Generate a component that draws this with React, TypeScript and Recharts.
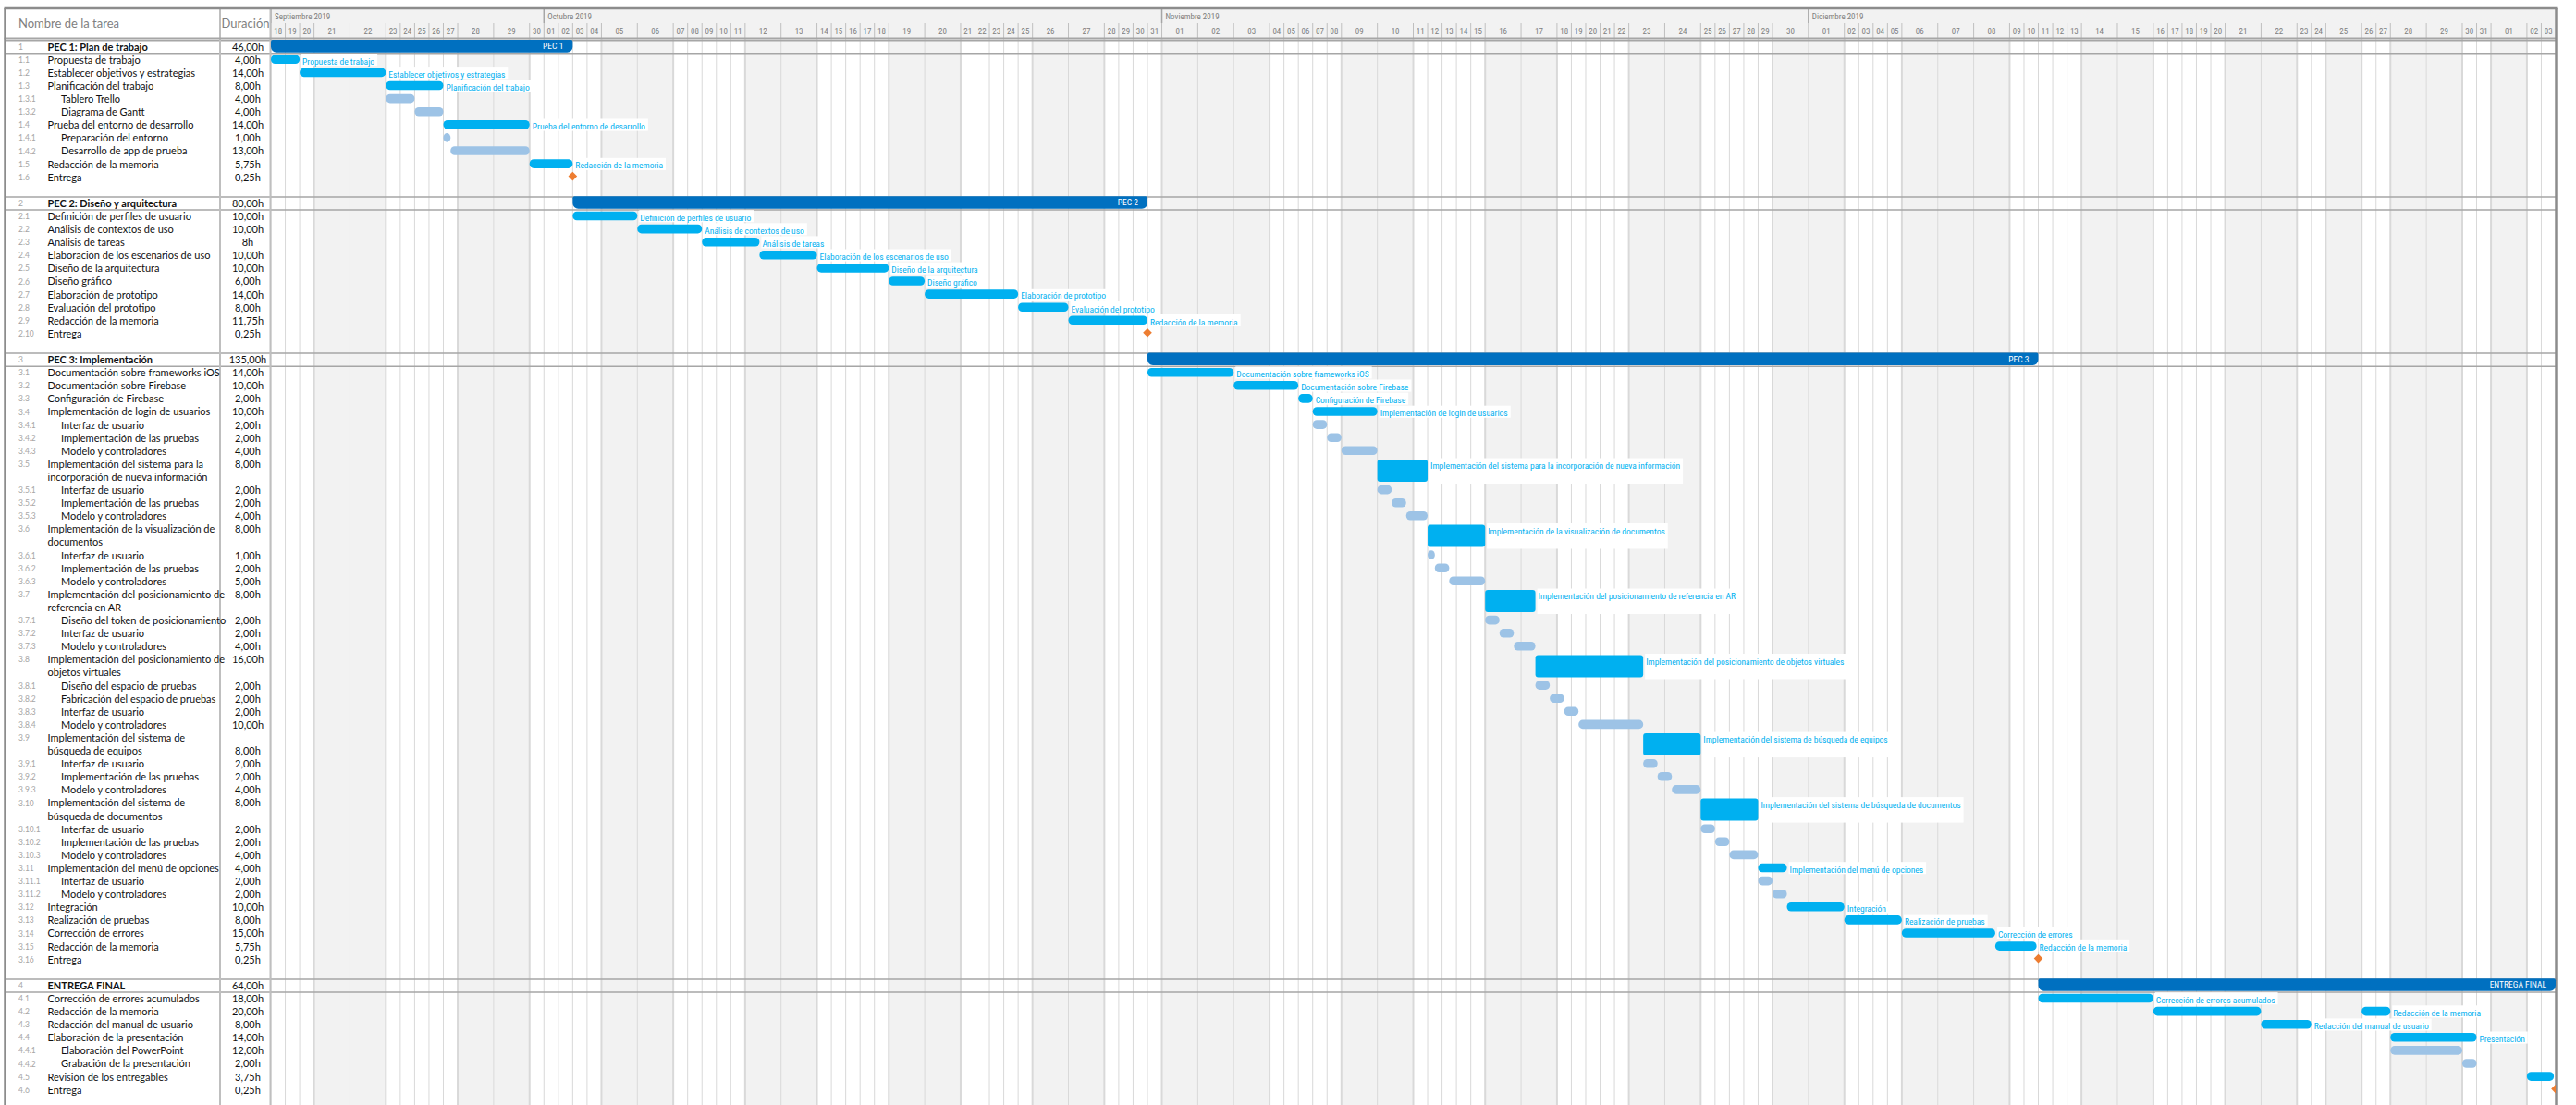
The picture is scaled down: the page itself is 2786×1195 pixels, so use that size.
import React, { useLayoutEffect, useRef, useState } from 'react';
import { ComposedChart, XAxis, YAxis, ReferenceArea, Scatter, Rectangle } from 'recharts';

const W = 2786;
const H = 1195;

const FONT = "Lato, 'Noto Sans', sans-serif";
const NARROW = "'Liberation Sans Narrow', 'Roboto Condensed', Roboto, sans-serif";

// calendar 18/09/2019 -> 03/01/2020; days off are drawn wider (more hours)
const calendarFirstDay = Date.UTC(2019, 8, 18);
const calendarLength = 108;
const holidays = ['2019-11-01', '2019-12-06', '2019-12-25', '2020-01-01'];
const workdayHours = 2;
const dayOffHours = 5;
const monthLabels = ['Septiembre 2019', 'Octubre 2019', 'Noviembre 2019', 'Diciembre 2019'];

// [id, name ('|' = second line), duration, start (h), end (h)]
type RowT = [string, string, string, number, number];

const pec1Rows: RowT[] = [
  ['1', 'PEC 1: Plan de trabajo', '46,00h', 0, 42],
  ['1.1', 'Propuesta de trabajo', '4,00h', 0, 4],
  ['1.2', 'Establecer objetivos y estrategias', '14,00h', 4, 16],
  ['1.3', 'Planificación del trabajo', '8,00h', 16, 24],
  ['1.3.1', 'Tablero Trello', '4,00h', 16, 20],
  ['1.3.2', 'Diagrama de Gantt', '4,00h', 20, 24],
  ['1.4', 'Prueba del entorno de desarrollo', '14,00h', 24, 36],
  ['1.4.1', 'Preparación del entorno', '1,00h', 24, 25],
  ['1.4.2', 'Desarrollo de app de prueba', '13,00h', 25, 36],
  ['1.5', 'Redacción de la memoria', '5,75h', 36, 42],
  ['1.6', 'Entrega', '0,25h', 42, 42],
];

const pec2Rows: RowT[] = [
  ['2', 'PEC 2: Diseño y arquitectura', '80,00h', 42, 122],
  ['2.1', 'Definición de perfiles de usuario', '10,00h', 42, 51],
  ['2.2', 'Análisis de contextos de uso', '10,00h', 51, 60],
  ['2.3', 'Análisis de tareas', '8h', 60, 68],
  ['2.4', 'Elaboración de los escenarios de uso', '10,00h', 68, 76],
  ['2.5', 'Diseño de la arquitectura', '10,00h', 76, 86],
  ['2.6', 'Diseño gráfico', '6,00h', 86, 91],
  ['2.7', 'Elaboración de prototipo', '14,00h', 91, 104],
  ['2.8', 'Evaluación del prototipo', '8,00h', 104, 111],
  ['2.9', 'Redacción de la memoria', '11,75h', 111, 122],
  ['2.10', 'Entrega', '0,25h', 122, 122],
];

const pec3Rows: RowT[] = [
  ['3', 'PEC 3: Implementación', '135,00h', 122, 246],
  ['3.1', 'Documentación sobre frameworks iOS', '14,00h', 122, 134],
  ['3.2', 'Documentación sobre Firebase', '10,00h', 134, 143],
  ['3.3', 'Configuración de Firebase', '2,00h', 143, 145],
  ['3.4', 'Implementación de login de usuarios', '10,00h', 145, 154],
  ['3.4.1', 'Interfaz de usuario', '2,00h', 145, 147],
  ['3.4.2', 'Implementación de las pruebas', '2,00h', 147, 149],
  ['3.4.3', 'Modelo y controladores', '4,00h', 149, 154],
  ['3.5', 'Implementación del sistema para la|incorporación de nueva información', '8,00h', 154, 161],
  ['3.5.1', 'Interfaz de usuario', '2,00h', 154, 156],
  ['3.5.2', 'Implementación de las pruebas', '2,00h', 156, 158],
  ['3.5.3', 'Modelo y controladores', '4,00h', 158, 161],
  ['3.6', 'Implementación de la visualización de|documentos', '8,00h', 161, 169],
  ['3.6.1', 'Interfaz de usuario', '1,00h', 161, 162],
  ['3.6.2', 'Implementación de las pruebas', '2,00h', 162, 164],
  ['3.6.3', 'Modelo y controladores', '5,00h', 164, 169],
  ['3.7', 'Implementación del posicionamiento de|referencia en AR', '8,00h', 169, 176],
  ['3.7.1', 'Diseño del token de posicionamiento', '2,00h', 169, 171],
  ['3.7.2', 'Interfaz de usuario', '2,00h', 171, 173],
  ['3.7.3', 'Modelo y controladores', '4,00h', 173, 176],
  ['3.8', 'Implementación del posicionamiento de|objetos virtuales', '16,00h', 176, 191],
  ['3.8.1', 'Diseño del espacio de pruebas', '2,00h', 176, 178],
  ['3.8.2', 'Fabricación del espacio de pruebas', '2,00h', 178, 180],
  ['3.8.3', 'Interfaz de usuario', '2,00h', 180, 182],
  ['3.8.4', 'Modelo y controladores', '10,00h', 182, 191],
  ['3.9', 'Implementación del sistema de|búsqueda de equipos', '8,00h', 191, 199],
  ['3.9.1', 'Interfaz de usuario', '2,00h', 191, 193],
  ['3.9.2', 'Implementación de las pruebas', '2,00h', 193, 195],
  ['3.9.3', 'Modelo y controladores', '4,00h', 195, 199],
  ['3.10', 'Implementación del sistema de|búsqueda de documentos', '8,00h', 199, 207],
  ['3.10.1', 'Interfaz de usuario', '2,00h', 199, 201],
  ['3.10.2', 'Implementación de las pruebas', '2,00h', 201, 203],
  ['3.10.3', 'Modelo y controladores', '4,00h', 203, 207],
  ['3.11', 'Implementación del menú de opciones', '4,00h', 207, 211],
  ['3.11.1', 'Interfaz de usuario', '2,00h', 207, 209],
  ['3.11.2', 'Modelo y controladores', '2,00h', 209, 211],
  ['3.12', 'Integración', '10,00h', 211, 219],
  ['3.13', 'Realización de pruebas', '8,00h', 219, 227],
  ['3.14', 'Corrección de errores', '15,00h', 227, 240],
  ['3.15', 'Redacción de la memoria', '5,75h', 240, 245.75],
  ['3.16', 'Entrega', '0,25h', 246, 246],
];

const finalRows: RowT[] = [
  ['4', 'ENTREGA FINAL', '64,00h', 246, 318],
  ['4.1', 'Corrección de errores acumulados', '18,00h', 246, 262],
  ['4.2', 'Redacción de la memoria', '20,00h', 262, 277],
  ['4.3', 'Redacción del manual de usuario', '8,00h', 277, 284],
  ['4.4', 'Elaboración de la presentación', '14,00h', 295, 307],
  ['4.4.1', 'Elaboración del PowerPoint', '12,00h', 295, 305],
  ['4.4.2', 'Grabación de la presentación', '2,00h', 305, 307],
  ['4.5', 'Revisión de los entregables', '3,75h', 314, 317.75],
  ['4.6', 'Entrega', '0,25h', 318, 318],
];

const sectionTags: Record<string, string> = { '1': 'PEC 1', '2': 'PEC 2', '3': 'PEC 3', '4': 'ENTREGA FINAL' };
const barLabels: Record<string, string> = { '4.4': 'Presentación' };
const extraSegments: Record<string, [number, number]> = { '4.2': [291, 295] };
const durationOnSecondLine = ['3.9'];
const unlabelled = ['4.5'];

const C = {
  section: '#0070C0',
  task: '#00B0F0',
  sub: '#9DC3E6',
  milestone: '#ED7D31',
  label: '#00B0F0',
  grid: '#D9D9D9',
  off: '#F2F2F2',
  frame: '#A6A6A6',
  dark: '#8C8C8C',
  head: '#7F7F7F',
};

// ---- calendar days ----
type Day = { label: string; start: number; end: number; off: boolean; month: number };
const days: Day[] = [];
let hourCursor = 0;
for (let i = 0; i < calendarLength; i++) {
  const d = new Date(calendarFirstDay + i * 86400000);
  const iso = d.toISOString().slice(0, 10);
  const dow = d.getUTCDay();
  const off = dow === 0 || dow === 6 || holidays.includes(iso);
  const len = off ? dayOffHours : workdayHours;
  const month = Math.min((d.getUTCFullYear() - 2019) * 12 + d.getUTCMonth() - 8, monthLabels.length - 1);
  days.push({ label: String(d.getUTCDate()).padStart(2, '0'), start: hourCursor, end: hourCursor + len, off, month });
  hourCursor += len;
}
const TOTAL = hourCursor;
const months = monthLabels.map((name, m) => {
  const ds = days.filter((d) => d.month === m);
  return { name, start: ds[0].start, end: ds[ds.length - 1].end };
});

// ---- geometry ----
const PLOT_LEFT = 1;
const PLOT_RIGHT = 2764;
const T0 = 293;
const K = (PLOT_RIGHT - T0) / TOTAL;
const X_MIN = -(T0 - PLOT_LEFT) / K;
const LINE = 14.1;
const LINE0 = 43.7;
const Y_MIN = -LINE0 / LINE;
const Y_MAX = (H - LINE0) / LINE;
const lx = (px: number) => (px - T0) / K;
const ly = (px: number) => (px - LINE0) / LINE;
const HEAD_TOP = 9;
const HEAD_MID = 25;
const HEAD_BOTTOM = 41;
const TABLE_LEFT = 5.5;
const COL_DUR = 238;

// ---- rows placed on lines ----
type Kind = 'section' | 'task' | 'sub' | 'tall' | 'milestone';
type Placed = { id: string; parts: string[]; dur: string; start: number; end: number; line: number; kind: Kind };
const placed: Placed[] = [];
let lineCursor = 0;
for (const rows of [pec1Rows, pec2Rows, pec3Rows, finalRows]) {
  for (const [id, name, dur, start, end] of rows) {
    const parts = name.split('|');
    const depth = id.split('.').length;
    const kind: Kind =
      depth === 1 ? 'section' : start === end ? 'milestone' : parts.length > 1 ? 'tall' : depth >= 3 ? 'sub' : 'task';
    placed.push({ id, parts, dur, start, end, line: lineCursor, kind });
    lineCursor += parts.length;
  }
  lineCursor += 1;
}

const tableLines = placed.flatMap((r) =>
  r.parts.map((text, i) => ({
    pos: r.line + i + 0.5,
    id: i === 0 ? r.id : '',
    text,
    bold: r.kind === 'section',
    indent: r.id.split('.').length >= 3,
    dur: (durationOnSecondLine.includes(r.id) ? i === r.parts.length - 1 : i === 0) ? r.dur : '',
  }))
);
const lineAt = new Map(tableLines.map((l) => [l.pos, l]));
const milestones = placed.filter((r) => r.kind === 'milestone').map((r) => ({ x: r.start, y: r.line + 0.42 }));

const TableTick = (props: any) => {
  const l = lineAt.get(props.payload?.value);
  if (!l) return <g />;
  const y = props.y;
  return (
    <g fontFamily={FONT}>
      {l.id && (
        <text x={20} y={y} dy="0.35em" fontSize={8.5} fill={C.frame}>
          {l.id}
        </text>
      )}
      <text x={l.indent ? 66 : 51.5} y={y} dy="0.35em" fontSize={11} fontWeight={l.bold ? 700 : 400} fill="#111">
        {l.text}
      </text>
      {l.dur && (
        <text x={268} y={y} dy="0.35em" fontSize={11} textAnchor="middle" fill="#111">
          {l.dur}
        </text>
      )}
    </g>
  );
};

const LABEL_SIZE = 9.5;

// bar label with a white box sized to the rendered text
function BarLabel({ x, y, h, text }: { x: number; y: number; h: number; text: string }) {
  const ref = useRef<SVGTextElement>(null);
  const [w, setW] = useState(text.length * 3.8);
  useLayoutEffect(() => {
    if (ref.current) setW(ref.current.getComputedTextLength());
  }, [text]);
  return (
    <g>
      <rect x={x} y={y - 1.5} width={w + 4} height={h + 3.5} fill="#fff" />
      <text ref={ref} x={x + 1} y={y + 6.8} dy="0.35em" fontSize={LABEL_SIZE} fill={C.label} fontFamily={NARROW}>
        {text}
      </text>
    </g>
  );
}

const barShape = (fill: string, rx: number, label: string) => (p: any) => {
  const { x, y, width, height } = p;
  return (
    <g>
      {label && <BarLabel x={x + width + 2} y={y} h={height} text={label} />}
      <rect x={x} y={y} width={width} height={height} rx={rx} ry={rx} fill={fill} />
    </g>
  );
};

const sectionShape = (tag: string) => (p: any) => (
  <g>
    <Rectangle x={p.x} y={p.y} width={p.width} height={p.height} radius={[2, 2, 6, 6]} fill={C.section} />
    <text x={p.x + p.width - 10} y={p.y + p.height / 2} dy="0.35em" textAnchor="end" fontSize={9.5} fill="#fff" fontFamily={NARROW}>
      {tag}
    </text>
  </g>
);

const diamond = (p: any) => {
  const { cx, cy } = p;
  const s = 4.8;
  return <path d={`M${cx},${cy - s}L${cx + s},${cy}L${cx},${cy + s}L${cx - s},${cy}Z`} fill={C.milestone} />;
};

export default function App() {
  return (
    <div style={{ position: 'absolute', left: 0, top: 0, width: W, height: H, background: '#fff' }}>
      <ComposedChart width={W} height={H} data={milestones} margin={{ top: 0, right: W - PLOT_RIGHT, bottom: 0, left: 0 }}>
        <XAxis type="number" dataKey="x" domain={[X_MIN, TOTAL]} allowDataOverflow hide />
        <YAxis
          type="number"
          dataKey="y"
          domain={[Y_MIN, Y_MAX]}
          allowDataOverflow
          reversed
          width={PLOT_LEFT}
          ticks={tableLines.map((l) => l.pos)}
          interval={0}
          tick={(p: any) => <TableTick {...p} />}
          axisLine={false}
          tickLine={false}
        />

        {/* body columns: one per day */}
        {days.map((d, i) => (
          <ReferenceArea
            key={`col-${i}`}
            x1={d.start}
            x2={d.end}
            y1={ly(HEAD_BOTTOM)}
            y2={Y_MAX}
            ifOverflow="visible"
            shape={(p: any) => (
              <g>
                <rect x={p.x} y={p.y} width={p.width} height={p.height} fill={d.off ? C.off : '#fff'} />
                <line
                  x1={p.x}
                  x2={p.x}
                  y1={p.y}
                  y2={p.y + p.height}
                  stroke={C.grid}
                  strokeWidth={i > 0 && days[i - 1].off !== d.off ? 2 : 1}
                />
              </g>
            )}
          />
        ))}

        {/* header: months */}
        {months.map((m, i) => (
          <ReferenceArea
            key={`month-${i}`}
            x1={m.start}
            x2={m.end}
            y1={ly(HEAD_TOP)}
            y2={ly(HEAD_MID)}
            ifOverflow="visible"
            shape={(p: any) => (
              <g>
                <rect x={p.x} y={p.y} width={p.width} height={p.height} fill={C.off} />
                <text x={p.x + 4} y={p.y + p.height / 2 + 0.5} dy="0.35em" fontSize={9} fill={C.head} fontFamily={NARROW}>
                  {m.name}
                </text>
                <line x1={p.x} x2={p.x} y1={p.y} y2={p.y + 32} stroke={C.frame} strokeWidth={1.5} />
              </g>
            )}
          />
        ))}

        {/* header: days */}
        {days.map((d, i) => (
          <ReferenceArea
            key={`day-${i}`}
            x1={d.start}
            x2={d.end}
            y1={ly(HEAD_MID)}
            y2={ly(HEAD_BOTTOM)}
            ifOverflow="visible"
            shape={(p: any) => (
              <g>
                <rect x={p.x} y={p.y} width={p.width} height={p.height} fill={C.off} />
                <line x1={p.x} x2={p.x} y1={p.y} y2={p.y + p.height} stroke="#BFBFBF" strokeWidth={1} />
                <text x={p.x + p.width / 2} y={p.y + p.height / 2 + 1} dy="0.35em" textAnchor="middle" fontSize={9} fill={C.head} fontFamily={NARROW}>
                  {d.label}
                </text>
              </g>
            )}
          />
        ))}

        {/* table header */}
        <ReferenceArea
          x1={lx(TABLE_LEFT)}
          x2={0}
          y1={ly(HEAD_TOP)}
          y2={ly(HEAD_BOTTOM)}
          ifOverflow="visible"
          shape={(p: any) => (
            <g fontFamily={FONT}>
              <rect x={p.x} y={p.y} width={p.width} height={p.height} fill="#fff" />
              <text x={20} y={p.y + p.height / 2} dy="0.35em" fontSize={13} fill={C.head}>
                Nombre de la tarea
              </text>
              <text x={(COL_DUR + T0) / 2} y={p.y + p.height / 2} dy="0.35em" fontSize={13} fill={C.head} textAnchor="middle">
                Duración
              </text>
            </g>
          )}
        />

        {/* section rows: top and bottom rules */}
        {placed
          .filter((r) => r.kind === 'section')
          .map((r) => (
            <ReferenceArea
              key={`rule-${r.id}`}
              x1={lx(TABLE_LEFT)}
              x2={TOTAL}
              y1={r.line}
              y2={r.line + 1}
              ifOverflow="visible"
              shape={(p: any) => (
                <g stroke={C.frame} strokeWidth={1.5}>
                  <line x1={p.x} x2={p.x + p.width} y1={p.y} y2={p.y} />
                  <line x1={p.x} x2={p.x + p.width} y1={p.y + p.height} y2={p.y + p.height} />
                </g>
              )}
            />
          ))}

        {/* frame */}
        <ReferenceArea
          x1={X_MIN}
          x2={TOTAL}
          y1={Y_MIN}
          y2={Y_MAX}
          ifOverflow="visible"
          shape={() => (
            <g>
              <line x1={COL_DUR} x2={COL_DUR} y1={HEAD_TOP} y2={H} stroke="#BFBFBF" strokeWidth={2} />
              <line x1={T0 - 0.5} x2={T0 - 0.5} y1={HEAD_TOP} y2={H} stroke="#BFBFBF" strokeWidth={2} />
              <line x1={TABLE_LEFT - 1} x2={PLOT_RIGHT + 1} y1={HEAD_BOTTOM + 0.5} y2={HEAD_BOTTOM + 0.5} stroke={C.frame} strokeWidth={2} />
              <line x1={TABLE_LEFT - 1} x2={PLOT_RIGHT + 1.5} y1={HEAD_TOP} y2={HEAD_TOP} stroke={C.dark} strokeWidth={2.5} />
              <line x1={TABLE_LEFT} x2={TABLE_LEFT} y1={HEAD_TOP} y2={H} stroke={C.dark} strokeWidth={2.5} />
              <line x1={PLOT_RIGHT + 0.5} x2={PLOT_RIGHT + 0.5} y1={HEAD_TOP} y2={H} stroke={C.dark} strokeWidth={2.5} />
            </g>
          )}
        />

        {/* bars */}
        {placed.map((r) => {
          if (r.kind === 'milestone') return null;
          if (r.kind === 'section')
            return (
              <ReferenceArea
                key={`bar-${r.id}`}
                x1={r.start}
                x2={r.end}
                y1={r.line - 0.05}
                y2={r.line + 0.92}
                ifOverflow="visible"
                shape={sectionShape(sectionTags[r.id])}
              />
            );
          const name = barLabels[r.id] ?? r.parts.join(' ');
          const label = r.kind === 'sub' || unlabelled.includes(r.id) ? '' : name;
          const extra = extraSegments[r.id];
          const fill = r.kind === 'sub' ? C.sub : C.task;
          const y1 = r.line + (r.kind === 'tall' ? 0.15 : 0.12);
          const y2 = r.kind === 'tall' ? r.line + 1.85 : r.line + 0.8;
          const rx = r.kind === 'tall' ? 3 : 4.5;
          return (
            <React.Fragment key={`bar-${r.id}`}>
              <ReferenceArea x1={r.start} x2={r.end} y1={y1} y2={y2} ifOverflow="visible" shape={barShape(fill, rx, extra ? '' : label)} />
              {extra && (
                <ReferenceArea x1={extra[0]} x2={extra[1]} y1={y1} y2={y2} ifOverflow="visible" shape={barShape(fill, rx, label)} />
              )}
            </React.Fragment>
          );
        })}

        <Scatter data={milestones} shape={diamond} isAnimationActive={false} />
      </ComposedChart>
    </div>
  );
}
